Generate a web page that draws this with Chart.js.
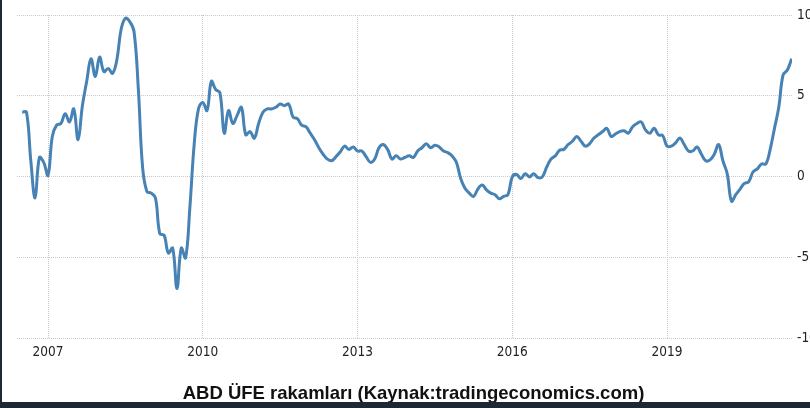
<!DOCTYPE html>
<html lang="tr">
<head>
<meta charset="utf-8">
<title>ABD ÜFE rakamları</title>
<script src="https://cdn.jsdelivr.net/npm/chart.js@4/dist/chart.umd.min.js"></script>
<style>
  html, body { margin: 0; padding: 0; background: #fff; }
  #wrap { position: relative; width: 810px; height: 408px; overflow: hidden; }
  #ppi-chart { display: block; }
  .edge { position: absolute; background: #1c2834; pointer-events: none; }
  #edge-left { left: 0; top: 0; width: 2px; height: 408px; }
  #edge-bottom { left: 0; top: 402px; width: 810px; height: 6px; }
</style>
</head>
<body>
<div id="wrap">
  <canvas id="ppi-chart" width="810" height="408"></canvas>
  <div class="edge" id="edge-left"></div>
  <div class="edge" id="edge-bottom"></div>
</div>
<script>
/* global Chart */
(function () {
  'use strict';

  // monthly series, first value = July 2006
  const startYear = 2006;
  const startMonth = 7;

  const ppiValues = [
    4.0, 4.0, 1.0, -1.3, 1.2, 0.9,                                  // 2006 Jul-Dec
    0.1, 2.5, 3.2, 3.3, 3.9, 3.4, 4.2, 2.3, 4.4, 5.9, 7.3, 6.2,     // 2007
    7.4, 6.5, 6.7, 6.4, 7.2, 9.1, 9.8, 9.6, 9.0, 5.5, 0.6, -0.9,    // 2008
    -1.0, -1.3, -3.5, -3.6, -4.7, -4.4, -6.9, -4.4, -5.0, -1.9, 2.0, 4.2, // 2009
    4.6, 4.1, 5.9, 5.4, 5.2, 2.7, 4.1, 3.3, 3.8, 4.3, 2.6, 2.8,     // 2010
    2.4, 3.3, 4.0, 4.2, 4.2, 4.3, 4.5, 4.4, 4.5, 3.7, 3.6, 3.2,     // 2011
    3.1, 2.7, 2.3, 1.8, 1.4, 1.1, 1.0, 1.25, 1.55, 1.9, 1.7, 1.85,  // 2012
    1.6, 1.6, 1.25, 0.9, 1.1, 1.8, 2.0, 1.7, 1.1, 1.3, 1.1, 1.2,    // 2013
    1.3, 1.2, 1.6, 1.8, 2.05, 1.8, 1.95, 1.85, 1.6, 1.5, 1.3, 0.9,  // 2014
    -0.1, -0.7, -1.0, -1.2, -0.75, -0.5, -0.8, -1.0, -1.1, -1.35, -1.2, -1.1, // 2015
    0.0, 0.15, -0.1, 0.2, 0.0, 0.2, -0.05, 0.0, 0.6, 1.1, 1.3, 1.65, // 2016
    1.7, 2.0, 2.2, 2.5, 2.2, 1.9, 2.05, 2.4, 2.6, 2.8, 3.0, 2.5,    // 2017
    2.65, 2.8, 2.85, 2.7, 3.1, 3.3, 3.4, 2.9, 2.7, 3.0, 2.6, 2.55,  // 2018
    1.9, 1.9, 2.1, 2.4, 2.0, 1.6, 1.6, 1.85, 1.4, 1.0, 1.05, 1.4,   // 2019
    2.0, 1.0, 0.2, -1.5, -1.1, -0.75, -0.4, -0.3, 0.3, 0.5, 0.8, 0.8, // 2020
    1.7, 3.0, 4.3, 6.3, 6.6, 7.3                                    // 2021 Jan-Jun
  ];

  const xTickYears = [2007, 2010, 2013, 2016, 2019];
  const yTicks = [-10, -5, 0, 5, 10];

  const chartTitle = 'ABD ÜFE rakamları (Kaynak:tradingeconomics.com)';

  const tickFont = {
    family: "'Liberation Sans Narrow', 'Arial Narrow', 'DejaVu Sans Condensed', sans-serif",
    size: 13.5
  };

  const points = ppiValues.map(function (v, i) {
    return { x: startYear + (startMonth - 1 + i) / 12, y: v };
  });

  const ctx = document.getElementById('ppi-chart').getContext('2d');
  new Chart(ctx, {
    type: 'line',
    data: {
      datasets: [
        {
          label: 'ÜFE',
          data: points,
          borderColor: '#4682b4',
          borderWidth: 3,
          pointRadius: 0,
          tension: 0.4,
          fill: false
        }
      ]
    },
    options: {
      responsive: false,
      animation: false,
      layout: { padding: { top: 15, left: 17, right: 0, bottom: 0 } },
      plugins: {
        legend: { display: false },
        tooltip: { enabled: false },
        title: {
          display: true,
          text: chartTitle,
          position: 'bottom',
          color: '#111',
          font: { family: "'Liberation Sans', Arial, sans-serif", size: 18.5, weight: 'bold' },
          padding: { top: 0, bottom: 3 }
        }
      },
      scales: {
        x: {
          type: 'linear',
          min: 2006.399,
          max: 2021.423,
          afterBuildTicks: function (scale) {
            scale.ticks = xTickYears.map(function (y) { return { value: y }; });
          },
          afterFit: function (scale) { scale.height = 44; },
          ticks: {
            autoSkip: false,
            maxRotation: 0,
            padding: 6,
            color: '#222',
            font: tickFont,
            callback: function (v) { return String(v); }
          },
          grid: { color: '#c8c8c8', lineWidth: 1, drawTicks: false },
          border: { display: false, dash: [1, 1] }
        },
        y: {
          position: 'right',
          min: -10,
          max: 10,
          afterBuildTicks: function (scale) {
            scale.ticks = yTicks.map(function (v) { return { value: v }; });
          },
          afterFit: function (scale) { scale.width = 18; },
          ticks: {
            padding: 5,
            color: '#222',
            font: tickFont
          },
          grid: { color: '#c8c8c8', lineWidth: 1, drawTicks: false },
          border: { display: false, dash: [1, 1] }
        }
      }
    }
  });
})();
</script>
</body>
</html>
